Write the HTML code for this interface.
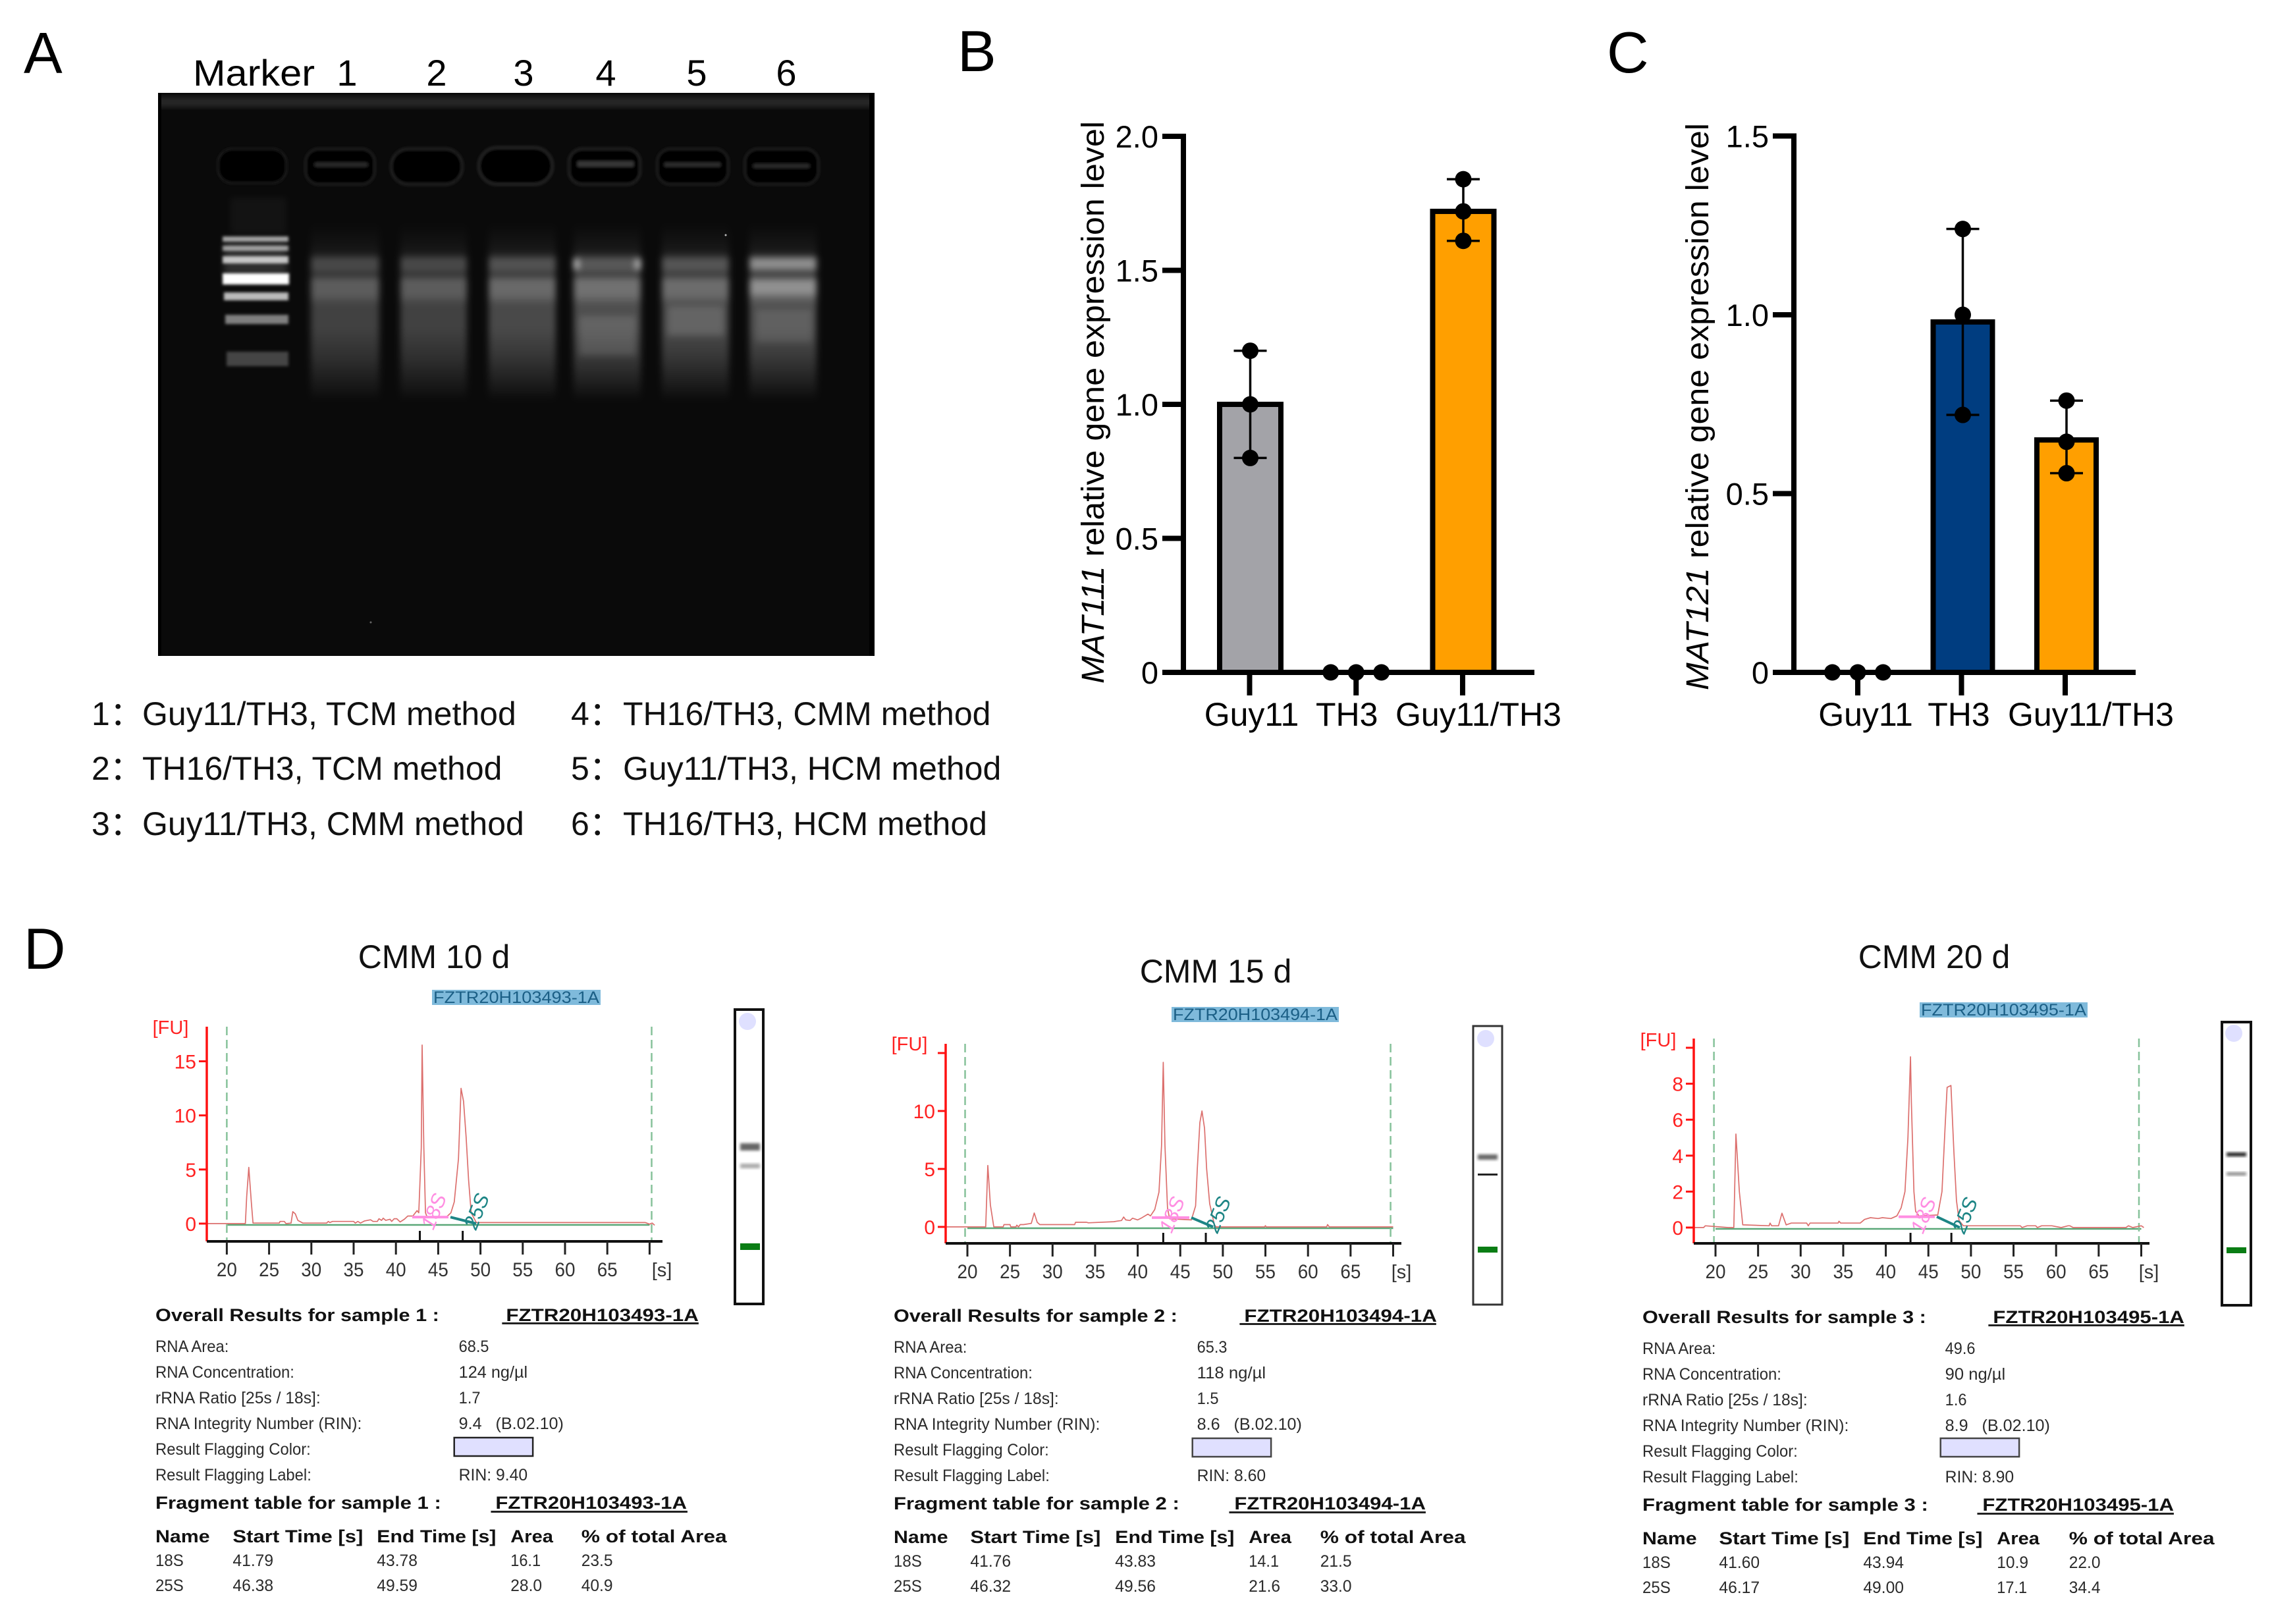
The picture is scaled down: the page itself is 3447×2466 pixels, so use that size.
<!DOCTYPE html>
<html lang="en">
<head>
<meta charset="utf-8">
<title>RNA extraction gel, MAT gene expression and Bioanalyzer traces</title>
<style>
html,body{margin:0;padding:0;background:#fff}
svg{display:block}
text{font-family:"Liberation Sans","Noto Sans CJK SC",sans-serif}
.b{font-weight:700;font-size:27px;fill:#111}
.n{font-size:25px;fill:#2b2b2b}
.lg{font-size:50px;fill:#111}
.title{font-size:50px;fill:#111;text-anchor:middle}
.pl{font-size:88px;fill:#000}
.lane{font-size:56px;fill:#000}
</style>
</head>
<body>
<svg id="fig" xmlns="http://www.w3.org/2000/svg" width="3447" height="2466" viewBox="0 0 3447 2466">
<defs>
<clipPath id="gelclip"><rect x="240" y="141" width="1088" height="855"/></clipPath>
<filter id="b2" x="-20%" y="-40%" width="140%" height="180%"><feGaussianBlur stdDeviation="2.2"/></filter>
<filter id="b5" x="-30%" y="-30%" width="160%" height="160%"><feGaussianBlur stdDeviation="5"/></filter>
<filter id="b12" x="-50%" y="-50%" width="200%" height="200%"><feGaussianBlur stdDeviation="12"/></filter>
<linearGradient id="smear" x1="0" y1="0" x2="0" y2="1">
<stop offset="0" stop-color="#fff" stop-opacity="0"/>
<stop offset=".13" stop-color="#fff" stop-opacity=".05"/>
<stop offset=".18" stop-color="#fff" stop-opacity=".1"/>
<stop offset=".2" stop-color="#fff" stop-opacity=".32"/>
<stop offset=".26" stop-color="#fff" stop-opacity=".32"/>
<stop offset=".29" stop-color="#fff" stop-opacity=".18"/>
<stop offset=".32" stop-color="#fff" stop-opacity=".42"/>
<stop offset=".4" stop-color="#fff" stop-opacity=".42"/>
<stop offset=".46" stop-color="#fff" stop-opacity=".28"/>
<stop offset=".59" stop-color="#fff" stop-opacity=".28"/>
<stop offset=".74" stop-color="#fff" stop-opacity=".2"/>
<stop offset=".89" stop-color="#fff" stop-opacity=".09"/>
<stop offset="1" stop-color="#fff" stop-opacity="0"/>
</linearGradient>
</defs>
<rect width="3447" height="2466" fill="#fff"/>

<text class="pl" x="36" y="111">A</text>
<text class="pl" x="1454" y="108">B</text>
<text class="pl" x="2440" y="110">C</text>
<text class="pl" x="36" y="1471">D</text>

<text class="lane" x="293" y="130" textLength="185" lengthAdjust="spacingAndGlyphs">Marker</text>
<g text-anchor="middle">
<text class="lane" x="527" y="130">1</text>
<text class="lane" x="663" y="130">2</text>
<text class="lane" x="795" y="130">3</text>
<text class="lane" x="920" y="130">4</text>
<text class="lane" x="1058" y="130">5</text>
<text class="lane" x="1194" y="130">6</text>
</g>

<g clip-path="url(#gelclip)">
<rect x="240" y="141" width="1088" height="855" fill="#0a0a0a"/>
<rect x="220" y="148" width="1130" height="14" fill="#2a2a2a" filter="url(#b5)"/>
<rect x="1320" y="141" width="8" height="855" fill="#000"/>
<rect x="240" y="141" width="5" height="855" fill="#000"/>
<g filter="url(#b2)">
<rect x="331" y="226" width="104" height="52" rx="22" fill="#050505" stroke="#1e1e1e" stroke-width="3"/>
<rect x="464" y="226" width="105" height="54" rx="20" fill="#040404" stroke="#1c1c1c" stroke-width="4"/>
<rect x="594" y="226" width="108" height="54" rx="26" fill="#020202" stroke="#222" stroke-width="4"/>
<rect x="727" y="224" width="112" height="56" rx="28" fill="#000" stroke="#262626" stroke-width="4"/>
<rect x="864" y="226" width="108" height="54" rx="20" fill="#040404" stroke="#242424" stroke-width="4"/>
<rect x="998" y="226" width="108" height="54" rx="20" fill="#030303" stroke="#1c1c1c" stroke-width="4"/>
<rect x="1131" y="226" width="112" height="54" rx="20" fill="#030303" stroke="#1c1c1c" stroke-width="4"/>
<rect x="478" y="247" width="80" height="6" fill="#2a2a2a"/>
<rect x="877" y="245" width="85" height="8" fill="#383838"/>
<rect x="1009" y="247" width="85" height="6" fill="#2e2e2e"/>
<rect x="1144" y="249" width="85" height="6" fill="#2a2a2a"/>
</g>
<g filter="url(#b5)">
<rect x="472" y="339" width="104" height="270" fill="url(#smear)" opacity=".8"/>
<rect x="608" y="339" width="101" height="270" fill="url(#smear)" opacity=".8"/>
<rect x="742" y="339" width="102" height="270" fill="url(#smear)" opacity=".92"/>
<rect x="871" y="339" width="102" height="270" fill="url(#smear)" opacity="1"/>
<rect x="1005" y="339" width="102" height="270" fill="url(#smear)" opacity=".95"/>
<rect x="1138" y="339" width="102" height="270" fill="url(#smear)" opacity="1"/>
<rect x="871" y="393" width="8" height="16" fill="#fff" opacity=".65"/>
<rect x="965" y="393" width="8" height="16" fill="#fff" opacity=".65"/>
<rect x="1138" y="391" width="102" height="18" fill="#fff" opacity=".32"/>
<rect x="1138" y="425" width="102" height="22" fill="#fff" opacity=".22"/>
<rect x="880" y="480" width="85" height="60" fill="#fff" opacity=".12"/>
<rect x="1014" y="465" width="85" height="45" fill="#fff" opacity=".14"/>
<rect x="1148" y="470" width="85" height="50" fill="#fff" opacity=".1"/>
</g>
<g>
<rect x="340" y="368" width="96" height="50" fill="#fff" opacity=".14" filter="url(#b5)"/>
<g filter="url(#b2)">
<rect x="338" y="359" width="100" height="8" fill="#fff" opacity=".62"/>
<rect x="338" y="373" width="100" height="8" fill="#fff" opacity=".55"/>
<rect x="338" y="389" width="100" height="11" fill="#fff" opacity=".72"/>
<rect x="338" y="415" width="101" height="17" fill="#fff" opacity="1"/>
<rect x="340" y="444" width="98" height="12" fill="#fff" opacity=".72"/>
<rect x="342" y="478" width="96" height="14" fill="#fff" opacity=".48"/>
<rect x="344" y="534" width="94" height="22" fill="#fff" opacity=".24"/>
</g>
<rect x="350" y="300" width="85" height="55" fill="#fff" opacity=".035" filter="url(#b5)"/>
</g>
<circle cx="1102" cy="357" r="1.5" fill="#bbb"/>
<circle cx="563" cy="945" r="1.5" fill="#666"/>
</g>

<g>
<text class="lg" x="139" y="1101">1：</text><text class="lg" x="216" y="1101">Guy11/TH3, TCM method</text>
<text class="lg" x="139" y="1184">2：</text><text class="lg" x="216" y="1184">TH16/TH3, TCM method</text>
<text class="lg" x="139" y="1268">3：</text><text class="lg" x="216" y="1268">Guy11/TH3, CMM method</text>
<text class="lg" x="867" y="1101">4：</text><text class="lg" x="946" y="1101">TH16/TH3, CMM method</text>
<text class="lg" x="867" y="1184">5：</text><text class="lg" x="946" y="1184">Guy11/TH3, HCM method</text>
<text class="lg" x="867" y="1268">6：</text><text class="lg" x="946" y="1268">TH16/TH3, HCM method</text>
</g>

<text transform="translate(1676,1038) rotate(-90)" font-size="48" textLength="854" lengthAdjust="spacingAndGlyphs"><tspan font-style="italic">MAT111</tspan> relative gene expression level</text>
<text transform="translate(2594,1048) rotate(-90)" font-size="48" textLength="861" lengthAdjust="spacingAndGlyphs"><tspan font-style="italic">MAT121</tspan> relative gene expression level</text>
<g id="chartB"></g>
<g id="chartC"></g>

<text class="title" x="659" y="1470">CMM 10 d</text>
<text class="title" x="1846" y="1492">CMM 15 d</text>
<text class="title" x="2937" y="1470">CMM 20 d</text>

<g><rect x="656" y="1503" width="256" height="23" fill="#7fbadb"/><text x="658" y="1523" font-size="25" fill="#1b5f86" textLength="252" lengthAdjust="spacingAndGlyphs">FZTR20H103493-1A</text></g>
<g><rect x="1779" y="1529" width="254" height="23" fill="#7fbadb"/><text x="1781" y="1549" font-size="25" fill="#1b5f86" textLength="250" lengthAdjust="spacingAndGlyphs">FZTR20H103494-1A</text></g>
<g><rect x="2915" y="1522" width="255" height="23" fill="#7fbadb"/><text x="2917" y="1542" font-size="25" fill="#1b5f86" textLength="251" lengthAdjust="spacingAndGlyphs">FZTR20H103495-1A</text></g>

<g>
<rect x="1116" y="1533" width="43" height="447" fill="#fff" stroke="#111" stroke-width="4"/>
<ellipse cx="1135" cy="1551" rx="13" ry="13" fill="#dfe0ff"/>
<rect x="1124" y="1736" width="30" height="11" fill="#555" filter="url(#b2)" opacity=".9"/>
<rect x="1124" y="1767" width="30" height="7" fill="#aaa" filter="url(#b2)"/>
<rect x="1124" y="1888" width="30" height="10" fill="#0a7d14"/>
</g>
<g>
<rect x="2237" y="1558" width="44" height="423" fill="#fff" stroke="#333" stroke-width="3"/>
<ellipse cx="2256" cy="1577" rx="13" ry="13" fill="#dfe0ff"/>
<rect x="2244" y="1753" width="30" height="8" fill="#666" filter="url(#b2)"/>
<rect x="2244" y="1782" width="30" height="3" fill="#222"/>
<rect x="2244" y="1893" width="30" height="9" fill="#0a7d14"/>
</g>
<g>
<rect x="3374" y="1552" width="44" height="430" fill="#fff" stroke="#111" stroke-width="4"/>
<ellipse cx="3392" cy="1569" rx="13" ry="13" fill="#dfe0ff"/>
<rect x="3381" y="1750" width="30" height="6" fill="#222" filter="url(#b2)"/>
<rect x="3381" y="1780" width="30" height="5" fill="#888" filter="url(#b2)"/>
<rect x="3381" y="1894" width="30" height="9" fill="#0a7d14"/>
</g>

<g id="trace1"></g>
<g id="trace2"></g>
<g id="trace3"></g>

<g transform="translate(236,0) scale(0.995,1)">
<text class="b" x="0" y="2006" textLength="433" lengthAdjust="spacingAndGlyphs">Overall Results for sample 1  :</text>
<text class="b" x="535" y="2006" textLength="294" lengthAdjust="spacingAndGlyphs">FZTR20H103493-1A</text>
<rect x="529" y="2008" width="300" height="3" fill="#222"/>
<text class="n" x="0" y="2053" textLength="112" lengthAdjust="spacingAndGlyphs">RNA Area:</text>
<text class="n" x="463" y="2053" textLength="46" lengthAdjust="spacingAndGlyphs">68.5</text>
<text class="n" x="0" y="2092" textLength="212" lengthAdjust="spacingAndGlyphs">RNA Concentration:</text>
<text class="n" x="463" y="2092" textLength="105" lengthAdjust="spacingAndGlyphs">124 ng/µl</text>
<text class="n" x="0" y="2131" textLength="252" lengthAdjust="spacingAndGlyphs">rRNA Ratio [25s / 18s]:</text>
<text class="n" x="463" y="2131" textLength="33" lengthAdjust="spacingAndGlyphs">1.7</text>
<text class="n" x="0" y="2170" textLength="315" lengthAdjust="spacingAndGlyphs">RNA Integrity Number (RIN):</text>
<text class="n" x="463" y="2170" xml:space="preserve" textLength="160" lengthAdjust="spacingAndGlyphs">9.4   (B.02.10)</text>
<text class="n" x="0" y="2209" textLength="237" lengthAdjust="spacingAndGlyphs">Result Flagging Color:</text>
<rect x="456" y="2183" width="120" height="28" fill="#e0e0ff" stroke="#222" stroke-width="2.5"/>
<text class="n" x="0" y="2248" textLength="238" lengthAdjust="spacingAndGlyphs">Result Flagging Label:</text>
<text class="n" x="463" y="2248" textLength="105" lengthAdjust="spacingAndGlyphs">RIN: 9.40</text>
<text class="b" x="0" y="2291" textLength="436" lengthAdjust="spacingAndGlyphs">Fragment table for sample 1  :</text>
<text class="b" x="519" y="2291" textLength="292" lengthAdjust="spacingAndGlyphs">FZTR20H103493-1A</text>
<rect x="512" y="2294" width="300" height="3" fill="#222"/>
<text class="b" x="0" y="2342" textLength="83" lengthAdjust="spacingAndGlyphs">Name</text>
<text class="b" x="118" y="2342" textLength="199" lengthAdjust="spacingAndGlyphs">Start Time [s]</text>
<text class="b" x="338" y="2342" textLength="182" lengthAdjust="spacingAndGlyphs">End Time [s]</text>
<text class="b" x="542" y="2342" textLength="65" lengthAdjust="spacingAndGlyphs">Area</text>
<text class="b" x="650" y="2342" textLength="222" lengthAdjust="spacingAndGlyphs">% of total Area</text>
<text class="n" x="0" y="2378" textLength="43" lengthAdjust="spacingAndGlyphs">18S</text>
<text class="n" x="118" y="2378" textLength="62" lengthAdjust="spacingAndGlyphs">41.79</text>
<text class="n" x="338" y="2378" textLength="62" lengthAdjust="spacingAndGlyphs">43.78</text>
<text class="n" x="542" y="2378" textLength="46" lengthAdjust="spacingAndGlyphs">16.1</text>
<text class="n" x="650" y="2378" textLength="48" lengthAdjust="spacingAndGlyphs">23.5</text>
<text class="n" x="0" y="2416" textLength="43" lengthAdjust="spacingAndGlyphs">25S</text>
<text class="n" x="118" y="2416" textLength="62" lengthAdjust="spacingAndGlyphs">46.38</text>
<text class="n" x="338" y="2416" textLength="62" lengthAdjust="spacingAndGlyphs">49.59</text>
<text class="n" x="542" y="2416" textLength="48" lengthAdjust="spacingAndGlyphs">28.0</text>
<text class="n" x="650" y="2416" textLength="48" lengthAdjust="spacingAndGlyphs">40.9</text>
</g>

<g transform="translate(1357,1) scale(0.995,1)">
<text class="b" x="0" y="2006" textLength="433" lengthAdjust="spacingAndGlyphs">Overall Results for sample 2  :</text>
<text class="b" x="535" y="2006" textLength="294" lengthAdjust="spacingAndGlyphs">FZTR20H103494-1A</text>
<rect x="528" y="2008" width="300" height="3" fill="#222"/>
<text class="n" x="0" y="2053" textLength="112" lengthAdjust="spacingAndGlyphs">RNA Area:</text>
<text class="n" x="463" y="2053" textLength="46" lengthAdjust="spacingAndGlyphs">65.3</text>
<text class="n" x="0" y="2092" textLength="212" lengthAdjust="spacingAndGlyphs">RNA Concentration:</text>
<text class="n" x="463" y="2092" textLength="105" lengthAdjust="spacingAndGlyphs">118 ng/µl</text>
<text class="n" x="0" y="2131" textLength="252" lengthAdjust="spacingAndGlyphs">rRNA Ratio [25s / 18s]:</text>
<text class="n" x="463" y="2131" textLength="33" lengthAdjust="spacingAndGlyphs">1.5</text>
<text class="n" x="0" y="2170" textLength="315" lengthAdjust="spacingAndGlyphs">RNA Integrity Number (RIN):</text>
<text class="n" x="463" y="2170" xml:space="preserve" textLength="160" lengthAdjust="spacingAndGlyphs">8.6   (B.02.10)</text>
<text class="n" x="0" y="2209" textLength="237" lengthAdjust="spacingAndGlyphs">Result Flagging Color:</text>
<rect x="456" y="2183" width="120" height="28" fill="#e0e0ff" stroke="#444" stroke-width="2.5"/>
<text class="n" x="0" y="2248" textLength="238" lengthAdjust="spacingAndGlyphs">Result Flagging Label:</text>
<text class="n" x="463" y="2248" textLength="105" lengthAdjust="spacingAndGlyphs">RIN: 8.60</text>
<text class="b" x="0" y="2291" textLength="436" lengthAdjust="spacingAndGlyphs">Fragment table for sample 2  :</text>
<text class="b" x="520" y="2291" textLength="292" lengthAdjust="spacingAndGlyphs">FZTR20H103494-1A</text>
<rect x="512" y="2294" width="300" height="3" fill="#222"/>
<text class="b" x="0" y="2342" textLength="83" lengthAdjust="spacingAndGlyphs">Name</text>
<text class="b" x="117" y="2342" textLength="199" lengthAdjust="spacingAndGlyphs">Start Time [s]</text>
<text class="b" x="338" y="2342" textLength="182" lengthAdjust="spacingAndGlyphs">End Time [s]</text>
<text class="b" x="542" y="2342" textLength="65" lengthAdjust="spacingAndGlyphs">Area</text>
<text class="b" x="651" y="2342" textLength="222" lengthAdjust="spacingAndGlyphs">% of total Area</text>
<text class="n" x="0" y="2378" textLength="43" lengthAdjust="spacingAndGlyphs">18S</text>
<text class="n" x="117" y="2378" textLength="62" lengthAdjust="spacingAndGlyphs">41.76</text>
<text class="n" x="338" y="2378" textLength="62" lengthAdjust="spacingAndGlyphs">43.83</text>
<text class="n" x="542" y="2378" textLength="46" lengthAdjust="spacingAndGlyphs">14.1</text>
<text class="n" x="651" y="2378" textLength="48" lengthAdjust="spacingAndGlyphs">21.5</text>
<text class="n" x="0" y="2416" textLength="43" lengthAdjust="spacingAndGlyphs">25S</text>
<text class="n" x="117" y="2416" textLength="62" lengthAdjust="spacingAndGlyphs">46.32</text>
<text class="n" x="338" y="2416" textLength="62" lengthAdjust="spacingAndGlyphs">49.56</text>
<text class="n" x="542" y="2416" textLength="48" lengthAdjust="spacingAndGlyphs">21.6</text>
<text class="n" x="651" y="2416" textLength="48" lengthAdjust="spacingAndGlyphs">33.0</text>
</g>

<g transform="translate(2494,3) scale(0.995,1)">
<text class="b" x="0" y="2006" textLength="433" lengthAdjust="spacingAndGlyphs">Overall Results for sample 3  :</text>
<text class="b" x="535" y="2006" textLength="292" lengthAdjust="spacingAndGlyphs">FZTR20H103495-1A</text>
<rect x="528" y="2008" width="299" height="3" fill="#222"/>
<text class="n" x="0" y="2053" textLength="112" lengthAdjust="spacingAndGlyphs">RNA Area:</text>
<text class="n" x="462" y="2053" textLength="46" lengthAdjust="spacingAndGlyphs">49.6</text>
<text class="n" x="0" y="2092" textLength="212" lengthAdjust="spacingAndGlyphs">RNA Concentration:</text>
<text class="n" x="462" y="2092" textLength="92" lengthAdjust="spacingAndGlyphs">90 ng/µl</text>
<text class="n" x="0" y="2131" textLength="252" lengthAdjust="spacingAndGlyphs">rRNA Ratio [25s / 18s]:</text>
<text class="n" x="462" y="2131" textLength="33" lengthAdjust="spacingAndGlyphs">1.6</text>
<text class="n" x="0" y="2170" textLength="315" lengthAdjust="spacingAndGlyphs">RNA Integrity Number (RIN):</text>
<text class="n" x="462" y="2170" xml:space="preserve" textLength="160" lengthAdjust="spacingAndGlyphs">8.9   (B.02.10)</text>
<text class="n" x="0" y="2209" textLength="237" lengthAdjust="spacingAndGlyphs">Result Flagging Color:</text>
<rect x="455" y="2181" width="120" height="28" fill="#e0e0ff" stroke="#444" stroke-width="2.5"/>
<text class="n" x="0" y="2248" textLength="238" lengthAdjust="spacingAndGlyphs">Result Flagging Label:</text>
<text class="n" x="462" y="2248" textLength="105" lengthAdjust="spacingAndGlyphs">RIN: 8.90</text>
<text class="b" x="0" y="2291" textLength="436" lengthAdjust="spacingAndGlyphs">Fragment table for sample 3  :</text>
<text class="b" x="519" y="2291" textLength="292" lengthAdjust="spacingAndGlyphs">FZTR20H103495-1A</text>
<rect x="511" y="2294" width="300" height="3" fill="#222"/>
<text class="b" x="0" y="2342" textLength="83" lengthAdjust="spacingAndGlyphs">Name</text>
<text class="b" x="117" y="2342" textLength="199" lengthAdjust="spacingAndGlyphs">Start Time [s]</text>
<text class="b" x="337" y="2342" textLength="182" lengthAdjust="spacingAndGlyphs">End Time [s]</text>
<text class="b" x="541" y="2342" textLength="65" lengthAdjust="spacingAndGlyphs">Area</text>
<text class="b" x="651" y="2342" textLength="222" lengthAdjust="spacingAndGlyphs">% of total Area</text>
<text class="n" x="0" y="2378" textLength="43" lengthAdjust="spacingAndGlyphs">18S</text>
<text class="n" x="117" y="2378" textLength="62" lengthAdjust="spacingAndGlyphs">41.60</text>
<text class="n" x="337" y="2378" textLength="62" lengthAdjust="spacingAndGlyphs">43.94</text>
<text class="n" x="541" y="2378" textLength="48" lengthAdjust="spacingAndGlyphs">10.9</text>
<text class="n" x="651" y="2378" textLength="48" lengthAdjust="spacingAndGlyphs">22.0</text>
<text class="n" x="0" y="2416" textLength="43" lengthAdjust="spacingAndGlyphs">25S</text>
<text class="n" x="117" y="2416" textLength="62" lengthAdjust="spacingAndGlyphs">46.17</text>
<text class="n" x="337" y="2416" textLength="62" lengthAdjust="spacingAndGlyphs">49.00</text>
<text class="n" x="541" y="2416" textLength="46" lengthAdjust="spacingAndGlyphs">17.1</text>
<text class="n" x="651" y="2416" textLength="48" lengthAdjust="spacingAndGlyphs">34.4</text>
</g>
</svg>

<script>
// ---------- bar chart data ----------
const barCategories = ["Guy11", "TH3", "Guy11/TH3"];
const meansB = [1.0, 0, 1.72];
const repsB_Guy11 = [1.2, 1.0, 0.8];
const repsB_TH3 = [0, 0, 0];
const repsB_Cross = [1.84, 1.72, 1.61];
const yTickLabelsB = ["0", "0.5", "1.0", "1.5", "2.0"];
const yTickValuesB = [0, 0.5, 1.0, 1.5, 2.0];

const meansC = [0, 0.98, 0.65];
const repsC_Guy11 = [0, 0, 0];
const repsC_TH3 = [1.24, 1.0, 0.72];
const repsC_Cross = [0.76, 0.645, 0.557];
const yTickLabelsC = ["0", "0.5", "1.0", "1.5"];
const yTickValuesC = [0, 0.5, 1.0, 1.5];

// ---------- electropherogram data: time [s] and fluorescence [FU] ----------
const xTickLabels = ["20", "25", "30", "35", "40", "45", "50", "55", "60", "65", ""];
const xTickValues = [20, 25, 30, 35, 40, 45, 50, 55, 60, 65, 70];

const yTicks1 = [0, 5, 10, 15];
const yTickLabels1 = ["0", "5", "10", "15"];
const yTicks2 = [0, 5, 10, 15];
const yTickLabels2 = ["0", "5", "10", ""];
const yTicks3 = [0, 2, 4, 6, 8, 10];
const yTickLabels3 = ["0", "2", "4", "6", "8", ""];

const peaks1 = [42.83, 47.9];
const peaks2 = [43.0, 48.0];
const peaks3 = [42.9, 47.7];

const times1 = [17.5,22.2,22.35,22.6,22.9,23.1,26.2,26.3,26.8,27,27.6,27.8,28.1,28.4,29,31.8,32,32.2,32.5,35,35.2,35.5,35.8,36.3,37,37.3,37.8,38,38.3,38.5,38.8,39.3,39.5,39.8,40.1,40.5,41,41.4,42,42.5,42.7,42.8,43,43.1,43.3,43.5,43.7,45.8,46.1,46.5,46.9,47.4,47.7,48,48.3,48.6,48.9,49.5,60,65,69.5,70,70.3,70.6];
const fu1 =    [0,   0,   2.5,  5.2, 2,   0.05,0.05,0.2, 0.2, 0, 0.05,1.1, 0.9, 0.3, 0.05,0.05,0.2,0.1, 0.2, 0.2,0.05,0.2, 0.05,0.25,0.35,0.2, 0.2, 0.45,0.3, 0.5, 0.3, 0.4, 0.2, 0.45,0.45,0.15,0.4,0.7, 0.7,1.2, 1,   3,   7, 16.5,7,   1,   0.6, 0.6, 0.7, 1,   2,   6,   12.5,11.3,8,   4,   1,   0.1, 0.1,0.1,0.1,-0.05,0.05,-0.15];

const times2 = [17.5,22.15,22.4,22.7,23.1,24.2,24.3,25,25.1,25.7,25.8,26,26.2,26.6,27.5,27.85,28.2,28.5,32.6,32.7,34,34.2,37.2,37.6,38.1,38.35,38.6,39.1,39.4,40,40.4,41.2,41.5,42,42.5,42.8,43,43.2,43.5,43.75,46.3,46.8,47,47.3,47.55,47.85,48.1,48.45,49,49.2,54.9,55,55.1,62.2,62.3,62.5,70];
const fu2 =    [0,   0,    5.3, 1.9, 0,   0,   0.2, 0.2,0,  0,   0.15,0,0.2,0.2, 0.3, 1.2,  0.4, 0.2, 0.2, 0.4, 0.4,0.35,0.45,0.5, 0.55,0.85, 0.6, 0.55,0.75,0.6,0.75,1.1, 0.95,1.5,3,  7,   14.2,7, 1.6, 0.7, 0.6, 1.8, 5,  9,   10,   8.5, 5,   2,   0.2, 0,  0,   0.1,0,  0,   0.2, 0,  0];

const times3 = [17.5,18.6,18.8,21.5,22.15,22.4,22.8,23.2,26.3,26.4,26.6,27.4,27.8,28.3,28.9,30.7,30.9,31.1,31.6,34.4,34.5,34.7,37,37.5,38.2,39.1,39.6,40.6,41.3,41.8,42.25,42.6,42.9,43,43.3,43.5,43.9,46.1,46.6,46.95,47.2,47.65,48,48.3,48.6,49.1,55.8,56,56.6,57.6,57.8,58.3,59.5,60.6,61.4,61.6,62,68.2,68.5,69,70,70.3];
const fu3 =    [0,   0,   0.1, 0,  0,    5.2, 2,   0.15,0.1, 0.25,0.1, 0.1, 0.8, 0.15,0.25,0.25,0.1, 0.25,0.25,0.25,0.35,0.25,0.25,0.45,0.55,0.5,0.55,0.5, 0.65,1.1, 2,    5,   9.5, 7, 2,   0.9, 0.65,0.7, 2,   5.5,  7.8, 7.9,  4.2,1.5, 0.4, 0.1, 0.1, 0, 0.1,0.1, 0,   0.1, 0.1, 0,  0.1, 0.1, 0,   0,   0.1, 0,  0.1,0];

// ---------- helpers ----------
const NS = "http://www.w3.org/2000/svg";
function mk(parent, tag, attrs, txt) {
  const el = document.createElementNS(NS, tag);
  for (const k in attrs) el.setAttribute(k, attrs[k]);
  if (txt !== undefined) el.textContent = txt;
  parent.appendChild(el);
  return el;
}

// ---------- bar charts ----------
function drawBars(rootId, means, reps, fills, yVals, yLabs, cfg) {
  const root = document.getElementById(rootId);
  const y = v => cfg.y0 - v * cfg.ky;
  const x = i => cfg.x0 + i * cfg.dx;
  means.forEach((m, i) => {
    if (m <= 0) return;
    const bar = mk(root, "rect", {x: x(i) + cfg.barShift - cfg.barW / 2, y: y(m), width: cfg.barW, height: y(0) - y(m), fill: fills[i], stroke: "#000", "stroke-width": 8});
    
    
  });
  const ya = mk(root, "line", {x1: cfg.axisX, x2: cfg.axisX, y1: y(yVals[yVals.length - 1]) - 4, y2: y(0) + 4, stroke: "#000", "stroke-width": 8});
  
  
  const xa = mk(root, "line", {x1: cfg.axisX - 32, x2: cfg.xEnd, y1: y(0), y2: y(0), stroke: "#000", "stroke-width": 8});
  
  
  yVals.forEach((v, i) => {
    const t = mk(root, "line", {x1: cfg.axisX - 32, x2: cfg.axisX, y1: y(v), y2: y(v), stroke: "#000", "stroke-width": 8});
    
    
    const l = mk(root, "text", {x: cfg.axisX - 38, y: y(v) + 17, "text-anchor": "end", "font-size": 47, fill: "#000"}, yLabs[i]);
    
    
  });
  barCategories.forEach((c, i) => {
    const t = mk(root, "line", {x1: x(i), x2: x(i), y1: y(0), y2: y(0) + 35, stroke: "#000", "stroke-width": 8});
    
    
    const l = mk(root, "text", {x: x(i) + cfg.labelShift[i], y: 1102, "text-anchor": "middle", "font-size": 50, fill: "#000"}, c);
    
    
  });
  reps.forEach((r, i) => {
    const hi = Math.max(...r), lo = Math.min(...r);
    const cx = x(i) + cfg.barShift;
    if (hi > lo) {
      const w = mk(root, "line", {x1: cx, x2: cx, y1: y(hi), y2: y(lo), stroke: "#000", "stroke-width": 3.5});
      
      
      [hi, lo].forEach(v => {
        const cap = mk(root, "line", {x1: cx - 25, x2: cx + 25, y1: y(v), y2: y(v), stroke: "#000", "stroke-width": 3.5});
        
        
      });
    }
    r.forEach((v, j) => {
      const off = hi === lo ? (j - 1) * 38.5 : 0;
      const d = mk(root, "circle", {cx: (hi === lo ? x(i) : cx) + off, cy: y(v), r: 12.5, fill: "#000"});
      
      
    });
  });
}
drawBars("chartB", meansB, [repsB_Guy11, repsB_TH3, repsB_Cross], ["#a3a3a8", "#ccc", "#ff9f00"], yTickValuesB, yTickLabelsB,
  {x0: 1897.5, dx: 161.75, y0: 1021, ky: 407, axisX: 1797, xEnd: 2330, barShift: 1, barW: 93, labelShift: [3, -14, 24]});
drawBars("chartC", meansC, [repsC_Guy11, repsC_TH3, repsC_Cross], ["#ccc", "#003d80", "#ff9f00"], yTickValuesC, yTickLabelsC,
  {x0: 2821, dx: 157.5, y0: 1021, ky: 543, axisX: 2724, xEnd: 3243, barShift: 2, barW: 90, labelShift: [12, -4, 39]});

// ---------- electropherograms ----------
function drawTrace(rootId, times, fus, yVals, yLabs, peaks, c) {
  const root = document.getElementById(rootId);
  const x = t => c.x20 + (t - 20) * c.kx;
  const y = f => c.y0 - f * c.ky;
  const baseline = mk(root, "line", {x1: x(20), x2: x(70), y1: y(0) + 2, y2: y(0) + 2, stroke: "#5aa778", "stroke-width": 2.5});
  
  
  [c.d1, c.d2].forEach(dx => {
    const g = mk(root, "line", {x1: dx, x2: dx, y1: c.top, y2: c.axisY, stroke: "#86c29a", "stroke-width": 2.5, "stroke-dasharray": "13 7"});
    
    
  });
  const pts = times.map((t, i) => x(t).toFixed(1) + "," + y(fus[i]).toFixed(1)).join(" ");
  const line = mk(root, "polyline", {points: pts, fill: "none", stroke: "#dc6f6d", "stroke-width": 1.7, "stroke-linejoin": "round"});
  
  
  const ya = mk(root, "line", {x1: c.axisX, x2: c.axisX, y1: c.top, y2: c.axisY, stroke: "#f11", "stroke-width": 3.5});
  
  
  const xa = mk(root, "line", {x1: c.axisX, x2: c.xEnd, y1: c.axisY, y2: c.axisY, stroke: "#111", "stroke-width": 4});
  
  
  yVals.forEach((v, i) => {
    const t = mk(root, "line", {x1: c.axisX - 12, x2: c.axisX, y1: y(v), y2: y(v), stroke: "#f11", "stroke-width": 3});
    
    
    const l = mk(root, "text", {x: c.axisX - 16, y: y(v) + 11, "text-anchor": "end", "font-size": 30, fill: "#f22"}, yLabs[i]);
    
    
  });
  xTickValues.forEach((v, i) => {
    const t = mk(root, "line", {x1: x(v), x2: x(v), y1: c.axisY, y2: c.axisY + 20, stroke: "#222", "stroke-width": 3});
    
    
    const l = mk(root, "text", {x: x(v), y: c.axisY + 53, "text-anchor": "middle", "font-size": 30, fill: "#333", textLength: xTickLabels[i] ? 31 : 0, lengthAdjust: "spacingAndGlyphs"}, xTickLabels[i]);
    
    
  });
  peaks.forEach(p => {
    const t = mk(root, "line", {x1: x(p), x2: x(p), y1: c.axisY - 16, y2: c.axisY, stroke: "#111", "stroke-width": 3});
    
    
  });
  const fuLab = mk(root, "text", {x: c.fuX, y: c.fuY, "text-anchor": "middle", "font-size": 29, fill: "#f22"}, "[FU]");
  
  
  const sLab = mk(root, "text", {x: c.sX, y: c.axisY + 53, "text-anchor": "middle", "font-size": 29, fill: "#333"}, "[s]");
  
  
  const m18 = mk(root, "line", {x1: c.p1, x2: c.p2, y1: y(c.pf), y2: y(c.pf), stroke: "#ff8ee2", "stroke-width": 4});
  
  
  const m25 = mk(root, "line", {x1: c.p2 + 3, x2: c.p3, y1: y(c.pf), y2: y(0), stroke: "#1d8585", "stroke-width": 4});
  
  
  const l18 = mk(root, "text", {transform: "translate(" + c.l18 + "," + (y(0) + 11) + ") rotate(-68)", "font-size": 31, fill: "#ff8ee2", "font-style": "italic"}, "18S");
  
  
  const l25 = mk(root, "text", {transform: "translate(" + c.l25 + "," + (y(0) + 11) + ") rotate(-68)", "font-size": 31, fill: "#1d8585", "font-style": "italic"}, "25S");
  
  
}
drawTrace("trace1", times1, fu1, yTicks1, yTickLabels1, peaks1, {x20: 344.4, kx: 12.84, y0: 1858, ky: 16.43, axisX: 314, top: 1559, axisY: 1885, xEnd: 1006, d1: 344.4, d2: 989.5, fuX: 259, fuY: 1570, sX: 1005, p1: 626, p2: 681, p3: 723, pf: 0.6, l18: 658, l25: 723});
drawTrace("trace2", times2, fu2, yTicks2, yTickLabels2, peaks2, {x20: 1469, kx: 12.93, y0: 1863, ky: 17.6, axisX: 1436, top: 1585, axisY: 1888, xEnd: 2128, d1: 1465.5, d2: 2111.6, fuX: 1381, fuY: 1595, sX: 2128, p1: 1749, p2: 1806, p3: 1842, pf: 0.8, l18: 1779, l25: 1849});
drawTrace("trace3", times3, fu3, yTicks3, yTickLabels3, peaks3, {x20: 2605, kx: 12.93, y0: 1864, ky: 27.3, axisX: 2572, top: 1577, axisY: 1888, xEnd: 3264, d1: 2602.6, d2: 3248, fuX: 2518, fuY: 1589, sX: 3263, p1: 2883, p2: 2938, p3: 2976, pf: 0.6, l18: 2920, l25: 2983});
</script>
</body>
</html>
